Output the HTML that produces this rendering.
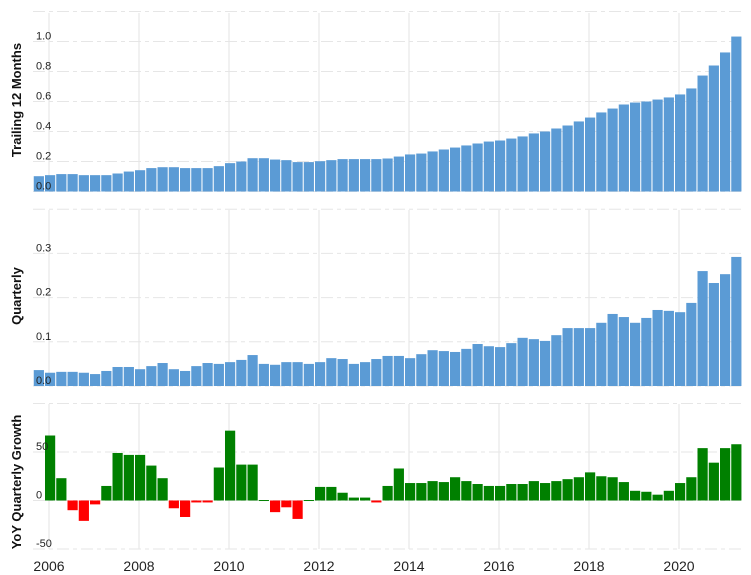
<!DOCTYPE html>
<html><head><meta charset="utf-8">
<style>
html,body{margin:0;padding:0;background:#fff;}
svg{display:block;font-family:"Liberation Sans",Arial,sans-serif;}
</style></head>
<body>
<svg id="chart" width="751" height="575" viewBox="0 0 751 575" xmlns="http://www.w3.org/2000/svg"></svg>
<script>
const years = ["2006","2008","2010","2012","2014","2016","2018","2020"];
const ttmValues = [0.102,0.109,0.116,0.116,0.109,0.109,0.109,0.12,0.133,0.142,0.156,0.162,0.162,0.156,0.156,0.156,0.169,0.189,0.2,0.222,0.222,0.213,0.209,0.196,0.196,0.202,0.209,0.216,0.216,0.216,0.216,0.22,0.233,0.247,0.253,0.267,0.28,0.293,0.307,0.32,0.333,0.34,0.353,0.367,0.387,0.4,0.42,0.44,0.467,0.493,0.527,0.553,0.58,0.593,0.6,0.613,0.627,0.647,0.687,0.773,0.84,0.927,1.033];
const quarterlyValues = [0.036,0.030,0.032,0.032,0.030,0.027,0.034,0.043,0.043,0.038,0.045,0.052,0.038,0.034,0.045,0.052,0.050,0.054,0.059,0.070,0.050,0.048,0.054,0.054,0.050,0.054,0.063,0.061,0.050,0.054,0.061,0.068,0.068,0.063,0.072,0.081,0.079,0.077,0.084,0.095,0.090,0.088,0.097,0.109,0.106,0.102,0.115,0.131,0.131,0.131,0.143,0.163,0.156,0.143,0.154,0.172,0.170,0.167,0.188,0.260,0.233,0.253,0.292];
const growthValues = [67,23,-10,-21,-4,15,49,47,47,36,23,-8,-17,-2,-2,34,72,37,37,0.5,-12,-7,-19,0.5,14,14,8,3,3,-2,15,33,18,18,20,19,24,20,17,15,15,17,17,20,18,20,22,24,29,25,24,19,10,9,6,10,18,24,54,39,54,58];
const ttmTicks = [0,0.2,0.4,0.6,0.8,1.0];
const qTicks = [0,0.1,0.2,0.3];
const gTicks = [-50,0,50];

const NS="http://www.w3.org/2000/svg";
const svg=document.getElementById('chart');
function el(tag,attrs,parent){const e=document.createElementNS(NS,tag);for(const k in attrs)e.setAttribute(k,attrs[k]);(parent||svg).appendChild(e);return e;}
const X0=33,X1=741;
// x position of bar index k where k=0 is 2006 Q1
function xCenter(k){return 50+11.25*k;}
function xYear(i){return 49+90*i;}

function panel(name,top,y0,scale,ticks,fmt,values,startK,title,titleY,colorFn,gridTopVal){
  const g=el('g',{});
  
  
  const y=v=>y0-v*scale;
  const bottom=Math.max(y0, y(Math.min(...ticks)));
  // vertical grid
  years.forEach((yr,i)=>{
    const l=el('line',{x1:xYear(i),x2:xYear(i),y1:top,y2:bottom,stroke:'#e3e3e3','stroke-width':1},g);
    
    
  });
  // horizontal grid
  const hv=ticks.concat([gridTopVal]);
  hv.forEach(v=>{
    const l=el('line',{x1:X0,x2:X1,y1:y(v),y2:y(v),stroke:'#e6e6e6','stroke-width':1,'stroke-dasharray':'12,4,4,4'},g);
    
    
  });
  // bars
  values.forEach((v,i)=>{
    const k=startK+i;
    const yt=Math.min(y(v),y0), h=Math.max(Math.abs(y(v)-y0),1);
    const r=el('rect',{x:xCenter(k)-5,y:yt,width:10.2,height:h,fill:colorFn(v)},g);
    
    
  });
  // tick labels
  ticks.forEach(v=>{
    const t=el('text',{x:36,y:y(v)-2,'font-size':11,fill:'#222'},g);
    t.textContent=fmt(v);
    
    
  });
  const t=el('text',{x:0,y:0,'font-size':13,'font-weight':'bold',fill:'#111','text-anchor':'middle',transform:`translate(21,${titleY}) rotate(-90)`},g);
  t.textContent=title;
  
  
}
const blue=()=> '#5b9bd5';
panel('ttm',13,191.5,150,ttmTicks,v=>v.toFixed(1),ttmValues,-1,'Trailing 12 Months',100,blue,1.2);
panel('quarterly',210,386,442,qTicks,v=>v.toFixed(1),quarterlyValues,-1,'Quarterly',296,blue,0.4);
panel('growth',404,500.5,0.97,gTicks,v=>String(v),growthValues,0,'YoY Quarterly Growth',482,v=>v>=0?'#008000':'#ff0000',100);
years.forEach((yr,i)=>{
  const t=el('text',{x:xYear(i),y:571,'font-size':14,fill:'#222','text-anchor':'middle'});
  t.textContent=yr;
  
  
});
</script>
</body></html>
